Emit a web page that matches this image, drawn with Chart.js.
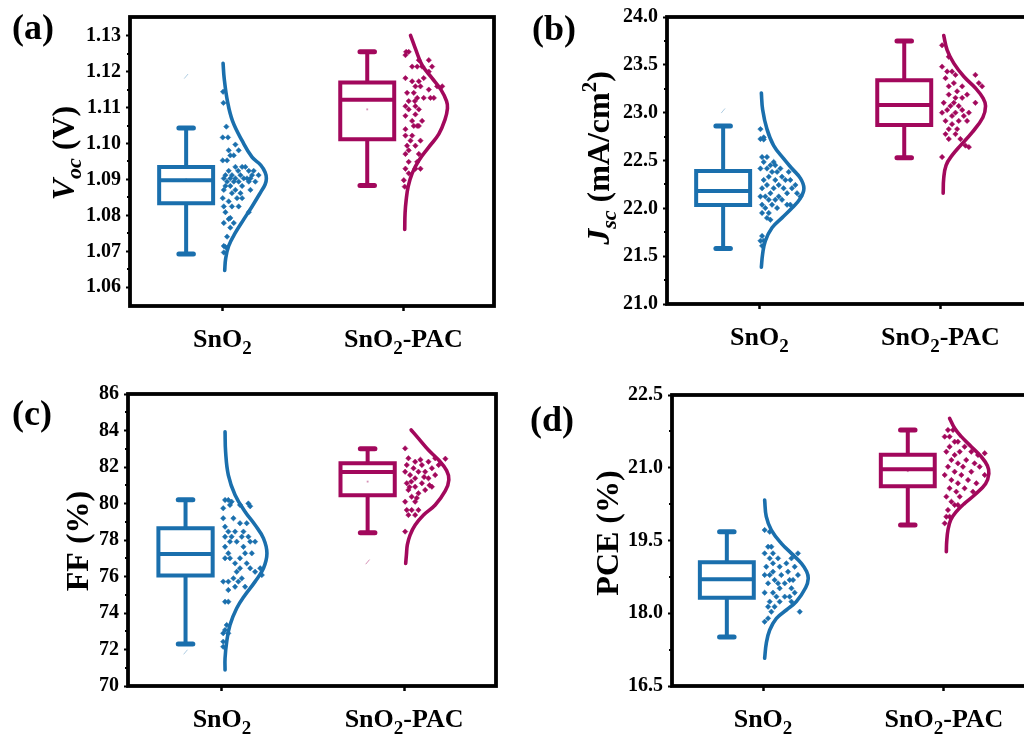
<!DOCTYPE html>
<html>
<head>
<meta charset="utf-8">
<title>SnO2 vs SnO2-PAC device statistics</title>
<script src="https://cdn.jsdelivr.net/npm/chart.js@4.4.1/dist/chart.umd.min.js"></script>
<style>
  html, body { margin: 0; padding: 0; background: #fff; overflow: hidden; }
  #wrap { position: relative; width: 1024px; height: 740px; overflow: hidden; }
  canvas { position: absolute; }
</style>
</head>
<body>
<div id="wrap">
  <canvas id="voc" width="512" height="370" style="left:0;top:0"></canvas>
  <canvas id="jsc" width="530" height="370" style="left:512px;top:0"></canvas>
  <canvas id="ff" width="512" height="370" style="left:0;top:370px"></canvas>
  <canvas id="pce" width="530" height="370" style="left:512px;top:370px"></canvas>
</div>
<script>
const categories = ['SnO2', 'SnO2-PAC'];

// box statistics per group: [min, q1, median, q3, max, mean]
const vocBox = [[1.0693, 1.0834, 1.0898, 1.0935, 1.1043, 1.0901], [1.0883, 1.1012, 1.1122, 1.1170, 1.1255, 1.1095]];
const jscBox = [[21.58, 22.035, 22.18, 22.39, 22.86, 22.19], [22.53, 22.87, 23.08, 23.34, 23.75, 23.09]];
const ffBox = [[72.3, 76.05, 77.23, 78.65, 80.2, 77.2], [78.4, 80.45, 81.73, 82.2, 83.0, 81.2]];
const pceBox = [[17.51, 18.32, 18.7, 19.05, 19.68, 18.7], [19.82, 20.62, 20.97, 21.27, 21.78, 20.93]];

// single devices: [horizontal jitter, value]
const vocDots = [
  [[0.004,1.1144],[0.006,1.1113],[0.022,1.1047],[0.002,1.1017],[0.031,1.1017],[0.072,1.0997],[0.09,1.0981],[0.035,1.0981],
   [0.044,1.0967],[0.063,1.0967],[0.002,1.0953],[0.026,1.0953],[0.109,1.0935],[0.127,1.0935],[0.072,1.0935],[0.035,1.0924],
   [0.087,1.0924],[0.173,1.0924],[0.146,1.0924],[0.017,1.0912],[0.053,1.0912],[0.1,1.0912],[0.164,1.0912],[0.2,1.0912],
   [0.008,1.0903],[0.044,1.0903],[0.072,1.0903],[0.118,1.0903],[0.136,1.0903],[0.155,1.0903],[0.026,1.0894],[0.063,1.0894],
   [0.09,1.0894],[0.146,1.0894],[0.182,1.0894],[0.017,1.0882],[0.044,1.0882],[0.109,1.0882],[0.008,1.0871],[0.072,1.0871],
   [0.155,1.0871],[0.053,1.0862],[0.1,1.0862],[0.002,1.0848],[0.081,1.0848],[0.109,1.0848],[0.035,1.0839],[0.008,1.0825],
   [0.053,1.0825],[0.09,1.0825],[0.017,1.0809],[0.146,1.0809],[0.044,1.0793],[0.035,1.079],[0.008,1.0779],[0.063,1.0779],
   [0.044,1.0766],[0.026,1.0741],[0.008,1.0715],[0.017,1.0712],[0.008,1.0697]],
  [[0.015,1.1255],[0.029,1.1255],[0.011,1.1246],[0.085,1.1232],[0.14,1.1232],[0.048,1.1214],[0.076,1.1214],[0.103,1.1214],
   [0.158,1.1214],[0.14,1.12],[0.011,1.1182],[0.112,1.1182],[0.048,1.1173],[0.085,1.1173],[0.066,1.1159],[0.094,1.1159],
   [0.186,1.1159],[0.214,1.1159],[0.14,1.115],[0.02,1.1141],[0.057,1.1141],[0.076,1.1127],[0.112,1.1127],[0.149,1.1127],
   [0.168,1.1127],[0.029,1.1118],[0.063,1.1118],[0.066,1.1104],[0.011,1.1104],[0.029,1.1095],[0.085,1.1095],[0.066,1.1081],
   [0.011,1.1077],[0.103,1.1063],[0.048,1.1063],[0.057,1.1049],[0.076,1.1049],[0.085,1.1049],[0.011,1.104],[0.011,1.1022],
   [0.048,1.1022],[0.039,1.1008],[0.094,1.1008],[0.066,1.0994],[0.02,1.0994],[0.029,1.0981],[0.085,1.0971],[0.011,1.0971],
   [0.029,1.0949],[0.076,1.0949],[0.011,1.093],[0.066,1.093],[0.094,1.093],[0.029,1.0917],[0.002,1.0898],[0.007,1.088]]
];
const jscDots = [
  [[0.006,22.828],[0.024,22.742],[0.006,22.725],[0.024,22.72],[0.015,22.536],[0.042,22.536],[0.024,22.485],[0.079,22.485],
   [0.061,22.45],[0.088,22.45],[0.006,22.416],[0.042,22.416],[0.116,22.416],[0.07,22.381],[0.098,22.381],[0.162,22.381],
   [0.052,22.33],[0.125,22.33],[0.024,22.296],[0.088,22.296],[0.144,22.296],[0.171,22.296],[0.042,22.244],[0.107,22.244],
   [0.199,22.244],[0.015,22.21],[0.079,22.21],[0.134,22.21],[0.18,22.21],[0.061,22.158],[0.153,22.158],[0.208,22.158],
   [0.006,22.124],[0.033,22.124],[0.107,22.124],[0.227,22.124],[0.052,22.089],[0.088,22.089],[0.125,22.089],[0.015,22.038],
   [0.07,22.038],[0.153,22.038],[0.171,22.038],[0.033,22.003],[0.098,22.003],[0.015,21.952],[0.052,21.952],[0.042,21.9],
   [0.061,21.88],[0.015,21.711],[0.006,21.66],[0.024,21.66],[0.015,21.608]],
  [[0.009,23.704],[0.046,23.584],[0.009,23.481],[0.037,23.43],[0.064,23.43],[0.083,23.395],[0.193,23.395],[0.028,23.361],
   [0.074,23.309],[0.212,23.309],[0.046,23.275],[0.12,23.275],[0.23,23.275],[0.092,23.223],[0.046,23.189],[0.147,23.189],
   [0.083,23.155],[0.12,23.155],[0.018,23.103],[0.074,23.103],[0.193,23.103],[0.055,23.069],[0.101,23.069],[0.037,23.028],
   [0.12,23.028],[0.009,23.0],[0.083,23.0],[0.157,23.0],[0.064,22.966],[0.129,22.966],[0.028,22.914],[0.101,22.914],
   [0.147,22.914],[0.064,22.88],[0.046,22.828],[0.092,22.828],[0.028,22.776],[0.083,22.776],[0.046,22.725],[0.11,22.725],
   [0.138,22.656],[0.157,22.64],[0.009,22.536]]
];
const ffDots = [
  [[0.017,80.19],[0.035,80.19],[0.053,80.1],[0.145,80.0],[0.044,79.92],[0.099,79.92],[0.155,79.85],[0.007,79.74],
   [0.007,79.19],[0.063,79.19],[0.099,78.92],[0.136,78.92],[0.017,78.73],[0.035,78.46],[0.072,78.46],[0.118,78.46],
   [0.017,78.18],[0.053,78.18],[0.109,78.18],[0.145,78.18],[0.044,77.91],[0.081,77.91],[0.155,77.91],[0.182,77.91],
   [0.017,77.63],[0.118,77.63],[0.035,77.27],[0.127,77.27],[0.164,77.27],[0.017,77.0],[0.044,77.0],[0.099,77.0],
   [0.072,76.72],[0.136,76.72],[0.099,76.45],[0.155,76.45],[0.21,76.45],[0.081,76.26],[0.182,76.26],[0.219,76.08],
   [0.063,75.9],[0.109,75.9],[0.007,75.72],[0.035,75.72],[0.09,75.72],[0.072,75.44],[0.127,75.44],[0.035,75.26],
   [0.017,74.62],[0.035,74.62],[0.026,73.34],[0.017,73.07],[0.007,72.89],[0.035,72.89],[0.007,72.43],[0.007,72.15]],
  [[0.006,83.02],[0.024,82.48],[0.171,82.48],[0.227,82.45],[0.09,82.4],[0.061,82.29],[0.134,82.29],[0.015,82.11],
   [0.098,82.11],[0.19,82.11],[0.052,81.93],[0.153,81.93],[0.006,81.74],[0.079,81.74],[0.116,81.74],[0.033,81.56],
   [0.171,81.56],[0.11,81.45],[0.061,81.38],[0.134,81.38],[0.04,81.2],[0.015,81.11],[0.098,81.11],[0.14,81.0],
   [0.061,80.92],[0.153,80.92],[0.03,80.9],[0.024,80.74],[0.116,80.74],[0.079,80.56],[0.042,80.37],[0.07,80.3],
   [0.006,80.1],[0.061,80.1],[0.015,79.64],[0.042,79.64],[0.079,79.64],[0.024,79.37],[0.061,79.37],[0.006,78.46]]
];
const pceDots = [
  [[0.009,19.716],[0.037,19.68],[0.028,19.372],[0.046,19.372],[0.009,19.235],[0.055,19.235],[0.193,19.235],[0.037,19.132],
   [0.083,19.132],[0.157,19.132],[0.055,19.029],[0.129,19.029],[0.018,18.96],[0.092,18.96],[0.175,18.96],[0.055,18.857],
   [0.138,18.857],[0.009,18.789],[0.037,18.789],[0.101,18.789],[0.193,18.789],[0.064,18.686],[0.147,18.686],[0.166,18.686],
   [0.028,18.617],[0.083,18.617],[0.12,18.617],[0.092,18.514],[0.157,18.514],[0.009,18.424],[0.055,18.424],[0.175,18.424],
   [0.074,18.342],[0.12,18.342],[0.147,18.342],[0.037,18.239],[0.092,18.239],[0.157,18.239],[0.028,18.135],[0.064,18.135],
   [0.046,18.032],[0.203,18.032],[0.028,17.895],[0.009,17.826]],
  [[0.022,21.778],[0.05,21.778],[0.004,21.641],[0.031,21.641],[0.077,21.537],[0.059,21.537],[0.031,21.434],[0.114,21.434],
   [0.013,21.331],[0.087,21.331],[0.151,21.331],[0.059,21.263],[0.188,21.263],[0.225,21.3],[0.041,21.16],[0.123,21.16],
   [0.077,21.091],[0.169,21.091],[0.022,21.022],[0.105,21.022],[0.197,21.022],[0.059,20.919],[0.151,20.919],[0.004,20.851],
   [0.096,20.851],[0.225,20.851],[0.041,20.747],[0.133,20.747],[0.077,20.679],[0.179,20.679],[0.031,20.576],[0.114,20.576],
   [0.068,20.507],[0.16,20.507],[0.013,20.404],[0.087,20.404],[0.041,20.3],[0.059,20.232],[0.077,20.232],[0.022,20.129],
   [0.031,19.991],[0.013,19.991],[0.004,19.854]]
];

// distribution outline: [half-violin width, value]
const vocCurve = [
  [[0.004,1.1223],[0.01,1.1182],[0.028,1.1118],[0.056,1.1063],[0.109,1.1008],[0.164,1.0962],[0.212,1.094],[0.236,1.092],
   [0.243,1.0903],[0.236,1.0886],[0.212,1.0865],[0.164,1.0825],[0.118,1.0789],[0.072,1.0752],[0.035,1.0715],[0.018,1.0679],
   [0.013,1.0647]],
  [[0.039,1.1301],[0.066,1.1264],[0.103,1.1218],[0.158,1.1182],[0.207,1.1150],[0.238,1.1118],[0.243,1.1098],[0.229,1.1066],
   [0.195,1.1026],[0.14,1.099],[0.085,1.0953],[0.048,1.0917],[0.026,1.088],[0.015,1.0843],[0.009,1.0807],[0.007,1.0761]]
];
const jscCurve = [
  [[0.011,23.206],[0.018,23.034],[0.042,22.828],[0.079,22.656],[0.134,22.519],[0.18,22.416],[0.227,22.313],[0.246,22.21],
   [0.227,22.107],[0.18,22.003],[0.125,21.9],[0.07,21.797],[0.033,21.66],[0.018,21.523],[0.011,21.385]],
  [[0.018,23.807],[0.037,23.653],[0.074,23.515],[0.129,23.378],[0.193,23.258],[0.236,23.15],[0.249,23.07],[0.234,22.95],
   [0.175,22.794],[0.11,22.656],[0.064,22.553],[0.031,22.45],[0.018,22.313],[0.015,22.158]]
];
const ffCurve = [
  [[0.017,83.93],[0.02,82.84],[0.035,81.56],[0.072,80.47],[0.127,79.55],[0.182,78.82],[0.228,78.09],[0.247,77.27],
   [0.228,76.45],[0.182,75.72],[0.127,74.99],[0.081,74.26],[0.044,73.34],[0.026,72.43],[0.017,71.52],[0.017,70.88]],
  [[0.039,84.03],[0.079,83.57],[0.134,82.93],[0.19,82.38],[0.234,81.8],[0.246,81.3],[0.227,80.7],[0.171,79.92],
   [0.107,79.37],[0.061,78.82],[0.033,78.27],[0.018,77.73],[0.013,77.18],[0.009,76.72]]
];
const pceCurve = [
  [[0.009,20.335],[0.018,19.991],[0.046,19.716],[0.101,19.442],[0.157,19.235],[0.212,19.029],[0.241,18.86],[0.25,18.72],
   [0.236,18.53],[0.184,18.239],[0.129,18.067],[0.074,17.895],[0.037,17.655],[0.018,17.38],[0.009,17.071]],
  [[0.031,22.019],[0.059,21.813],[0.096,21.641],[0.151,21.434],[0.206,21.228],[0.24,21.04],[0.248,20.88],[0.23,20.67],
   [0.169,20.438],[0.114,20.266],[0.068,20.094],[0.037,19.923],[0.022,19.716],[0.015,19.475],[0.013,19.269]]
];

// faint 1%/99% markers: [group, value]
const vocMarks = [[0, 1.1187]];
const jscMarks = [[0, 23.02]];
const ffMarks = [[0, 71.86], [1, 76.8]];
const pceMarks = [];

const vocTicks = [1.06, 1.07, 1.08, 1.09, 1.10, 1.11, 1.12, 1.13];
const jscTicks = [21.0, 21.5, 22.0, 22.5, 23.0, 23.5, 24.0];
const ffTicks = [70, 72, 74, 76, 78, 80, 82, 84, 86];
const pceTicks = [16.5, 18.0, 19.5, 21.0, 22.5];

const COLORS = ['#1a6fad', '#a2085c'];
const FAINT = ['rgba(26,111,173,0.35)', 'rgba(162,8,92,0.45)'];
const FONT = "'Liberation Serif', 'Times New Roman', serif";
const BOX_SHIFT = -0.2, BOX_HALF = 0.149, CAP_HALF = 0.04;
const Y_AXIS_W = 60, X_AXIS_H = 30;

const catLabel = name => {
  const segs = [{ text: 'SnO', size: 26 }, { text: '2', size: 19, dy: 7 }];
  if (name.endsWith('-PAC')) segs.push({ text: '-PAC', size: 26 });
  return segs;
};

const panels = [
  { id: 'voc', box: vocBox, dots: vocDots, curve: vocCurve, marks: vocMarks, ticks: vocTicks, dec: 2,
    y: [1.0548, 1.1352], x: [0.49, 2.5], area: { l: 130, r: 494, t: 13, b: 306 },
    letter: '(a)', letterAt: [12, 39], titleAt: [63, 153],
    title: [{ text: 'V', size: 32, italic: true }, { text: 'oc', size: 22, italic: true, dy: 7 }, { text: ' (V)', size: 32 }] },
  { id: 'jsc', box: jscBox, dots: jscDots, curve: jscCurve, marks: jscMarks, ticks: jscTicks, dec: 1,
    y: [21, 24], x: [0.49, 2.5], area: { l: 155, r: 519, t: 13, b: 304 },
    letter: '(b)', letterAt: [20, 40], titleAt: [86, 158],
    title: [{ text: 'J', size: 32, italic: true }, { text: 'sc', size: 22, italic: true, dy: 7 },
            { text: ' (mA/cm', size: 32 }, { text: '2', size: 21, dy: -13 }, { text: ')', size: 32 }] },
  { id: 'ff', box: ffBox, dots: ffDots, curve: ffCurve, marks: ffMarks, ticks: ffTicks, dec: 0,
    y: [70, 86], x: [0.484, 2.505], area: { l: 128, r: 496, t: 24, b: 316 },
    letter: '(c)', letterAt: [12, 55], titleAt: [77, 171],
    title: [{ text: 'FF (%)', size: 32 }] },
  { id: 'pce', box: pceBox, dots: pceDots, curve: pceCurve, marks: pceMarks, ticks: pceTicks, dec: 1,
    y: [16.5, 22.5], x: [0.497, 2.503], area: { l: 160, r: 523, t: 25, b: 316 },
    letter: '(d)', letterAt: [18, 61], titleAt: [95, 163],
    title: [{ text: 'PCE (%)', size: 32 }] }
];

const fontOf = s => `${s.italic ? 'italic ' : ''}bold ${s.size}px ${FONT}`;

function drawRich(ctx, segs, x, y) {
  let w = 0;
  segs.forEach(s => { ctx.font = fontOf(s); w += ctx.measureText(s.text).width; });
  let cx = x - w / 2;
  ctx.textAlign = 'left';
  ctx.textBaseline = 'alphabetic';
  ctx.fillStyle = '#000';
  segs.forEach(s => {
    ctx.font = fontOf(s);
    ctx.fillText(s.text, cx, y + (s.dy || 0));
    cx += ctx.measureText(s.text).width;
  });
}

function decorations(p) {
  return {
    id: 'decorations',
    afterDraw(chart) {
      const { ctx, chartArea: a, scales: { x, y } } = chart;
      ctx.save();
      ctx.strokeStyle = '#000';
      // minor ticks halfway between labelled ones
      ctx.lineWidth = 2;
      p.ticks.slice(1).forEach((t, i) => {
        const py = Math.round(y.getPixelForValue((t + p.ticks[i]) / 2));
        ctx.beginPath();
        ctx.moveTo(a.left - 3, py);
        ctx.lineTo(a.left, py);
        ctx.stroke();
      });
      ctx.lineWidth = 3.8;
      ctx.strokeRect(a.left, a.top, a.right - a.left, a.bottom - a.top);

      categories.forEach((name, i) => drawRich(ctx, catLabel(name), x.getPixelForValue(i + 1), a.bottom + 41));

      ctx.font = `bold 36px ${FONT}`;
      ctx.fillStyle = '#000';
      ctx.textAlign = 'left';
      ctx.textBaseline = 'alphabetic';
      ctx.fillText(p.letter, p.letterAt[0], p.letterAt[1]);

      ctx.translate(p.titleAt[0], p.titleAt[1]);
      ctx.rotate(-Math.PI / 2);
      drawRich(ctx, p.title, 0, 11);
      ctx.restore();
    }
  };
}

function groupDatasets(p, g) {
  const c = g + 1, col = COLORS[g];
  const [mn, q1, med, q3, mx, mean] = p.box[g];
  const bx = c + BOX_SHIFT, l = bx - BOX_HALF, r = bx + BOX_HALF;
  const line = (data, extra) => Object.assign({
    data, showLine: true, borderColor: col, borderWidth: 4, pointRadius: 0,
    tension: 0, fill: false, borderJoinStyle: 'miter'
  }, extra);
  return [
    line([{ x: bx, y: q3 }, { x: r, y: q3 }, { x: r, y: q1 }, { x: l, y: q1 }, { x: l, y: q3 }, { x: bx, y: q3 }]),
    line([{ x: l, y: med }, { x: r, y: med }]),
    line([{ x: bx, y: q3 }, { x: bx, y: mx }]),
    line([{ x: bx, y: q1 }, { x: bx, y: mn }]),
    line([{ x: bx - CAP_HALF, y: mx }, { x: bx + CAP_HALF, y: mx }], { borderWidth: 5, borderCapStyle: 'round' }),
    line([{ x: bx - CAP_HALF, y: mn }, { x: bx + CAP_HALF, y: mn }], { borderWidth: 5, borderCapStyle: 'round' }),
    line(p.curve[g].map(([w, v]) => ({ x: c + w, y: v })),
      { borderWidth: 3.6, tension: 0.4, borderCapStyle: 'round', borderJoinStyle: 'round' }),
    {
      data: p.dots[g].map(([o, v]) => ({ x: c + o, y: v })), showLine: false,
      pointStyle: 'rectRot', pointRadius: 2.7, pointBackgroundColor: col, pointBorderColor: col, pointBorderWidth: 0.5
    },
    {
      data: [{ x: bx, y: mean }], showLine: false, pointStyle: 'rect', pointRadius: 1.3,
      pointBackgroundColor: FAINT[g], pointBorderWidth: 0
    },
    {
      data: p.marks.filter(m => m[0] === g).map(m => ({ x: bx, y: m[1] })), showLine: false,
      pointStyle: 'line', pointRotation: -50, pointRadius: 3, pointBorderColor: FAINT[g], pointBorderWidth: 1
    }
  ];
}

panels.forEach(p => {
  const canvas = document.getElementById(p.id);
  const W = canvas.width, H = canvas.height;
  new Chart(canvas, {
    type: 'scatter',
    data: { datasets: [...groupDatasets(p, 0), ...groupDatasets(p, 1)] },
    options: {
      responsive: false,
      animation: false,
      devicePixelRatio: 1,
      events: [],
      layout: {
        padding: { left: p.area.l - Y_AXIS_W, top: p.area.t, right: W - p.area.r, bottom: H - p.area.b - X_AXIS_H }
      },
      plugins: { legend: { display: false }, tooltip: { enabled: false } },
      scales: {
        x: {
          type: 'linear', min: p.x[0], max: p.x[1],
          border: { display: false },
          grid: { drawOnChartArea: false, drawTicks: true, tickLength: 5, tickWidth: 2.5, tickColor: '#000' },
          ticks: { callback: () => '' },
          afterBuildTicks: s => { s.ticks = categories.map((_, i) => ({ value: i + 1 })); },
          afterFit: s => { s.height = X_AXIS_H; }
        },
        y: {
          type: 'linear', min: p.y[0], max: p.y[1],
          border: { display: false },
          grid: { drawOnChartArea: false, drawTicks: true, tickLength: 4, tickWidth: 2, tickColor: '#000' },
          ticks: {
            color: '#000', padding: 5, font: { family: FONT, size: 20, weight: 'bold' },
            callback: v => Number(v).toFixed(p.dec)
          },
          afterBuildTicks: s => { s.ticks = p.ticks.map(v => ({ value: v })); },
          afterFit: s => { s.width = Y_AXIS_W; }
        }
      }
    },
    plugins: [decorations(p)]
  });
});
</script>
</body>
</html>
